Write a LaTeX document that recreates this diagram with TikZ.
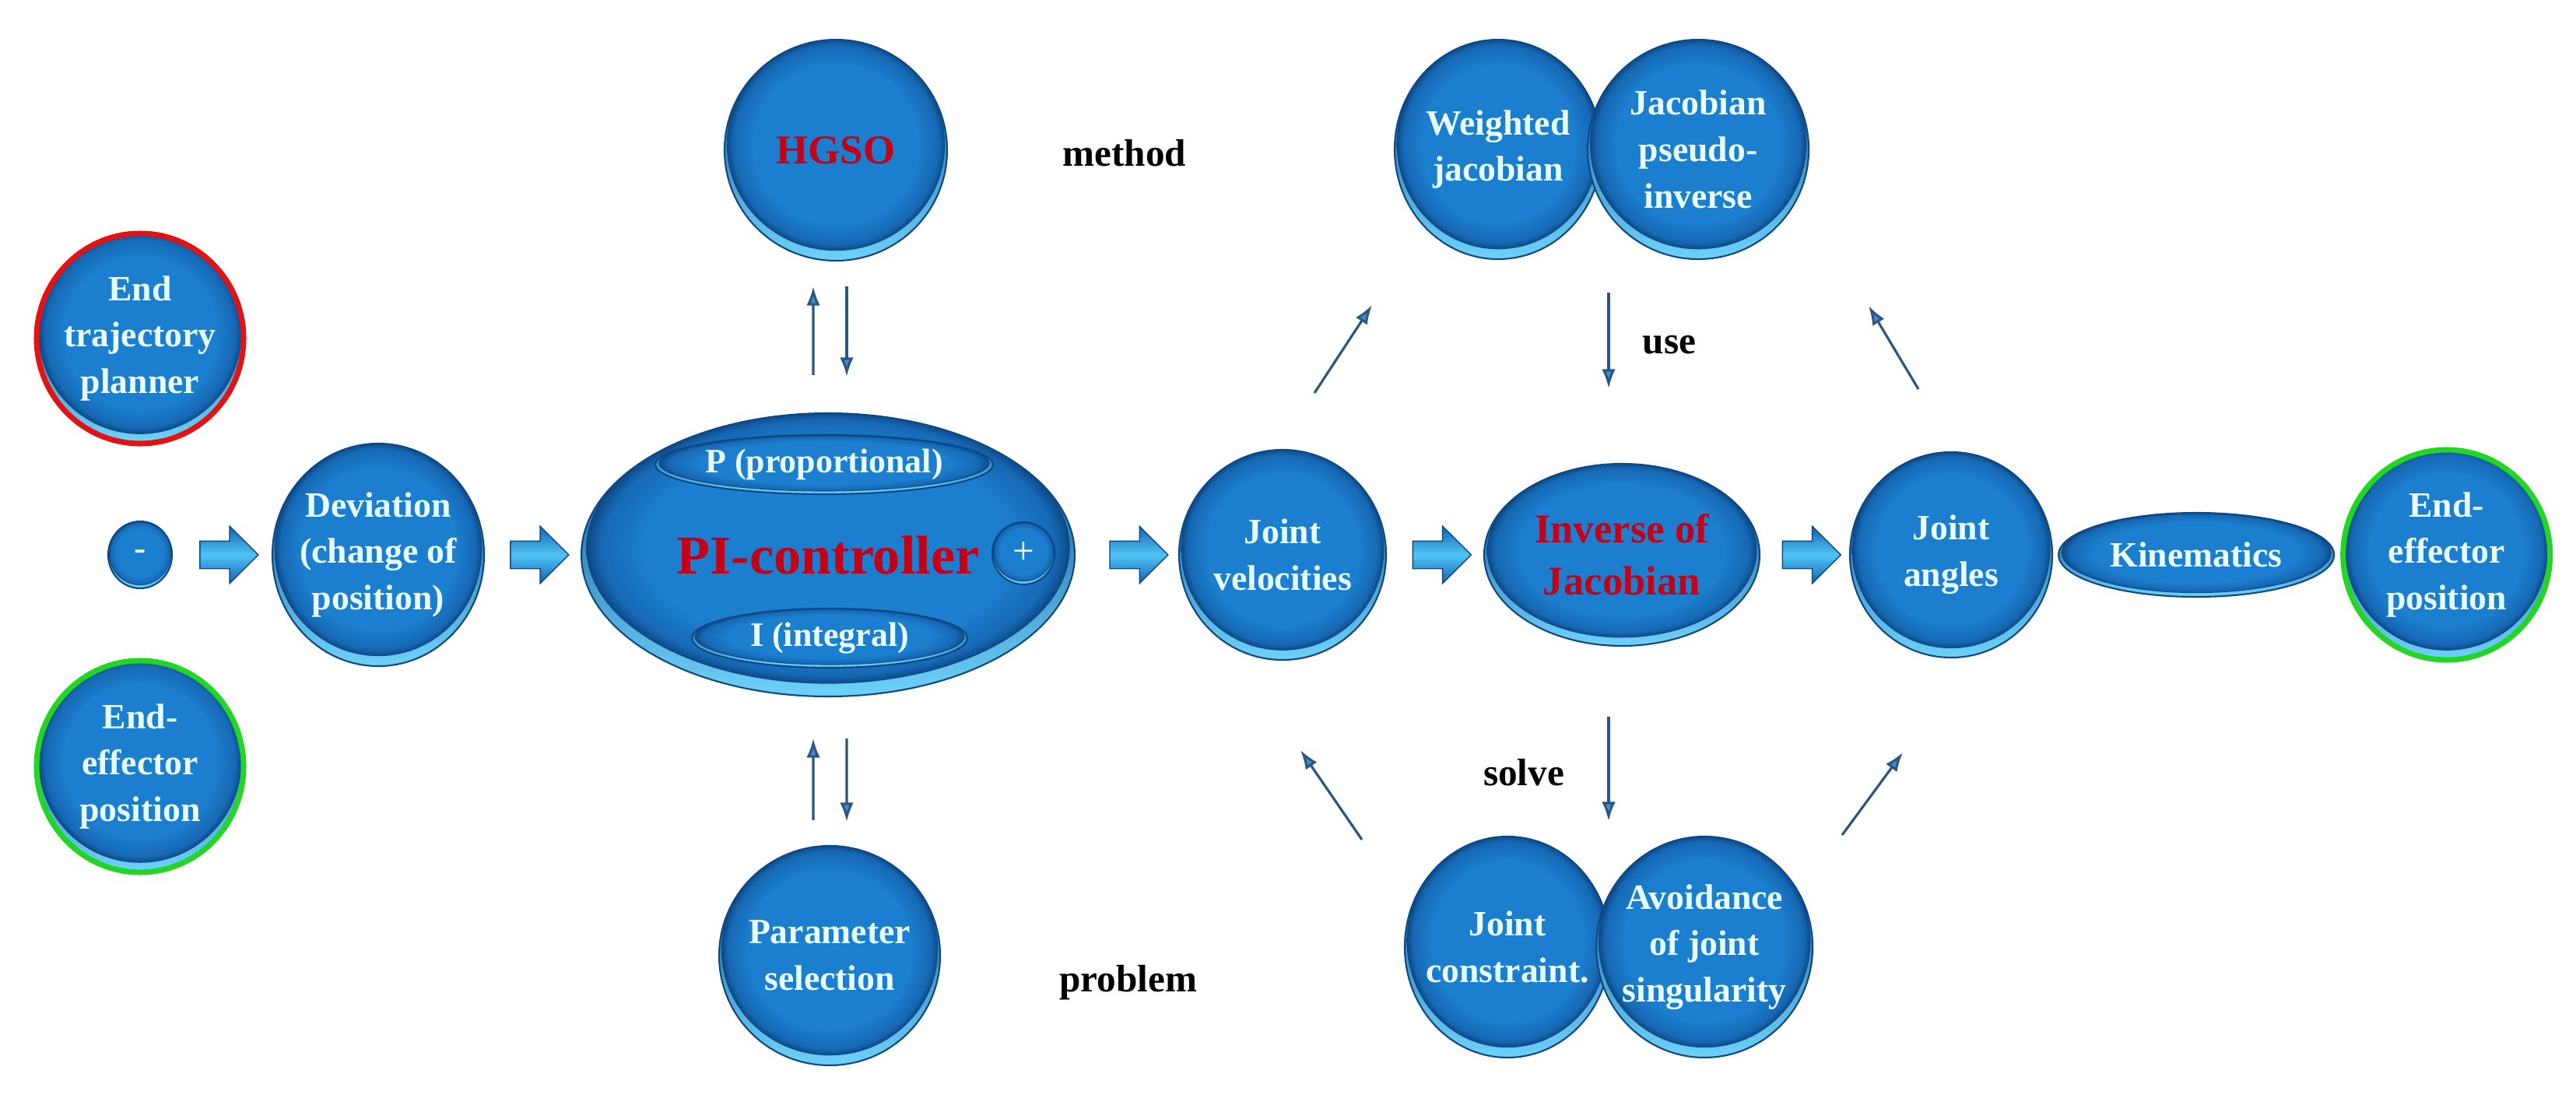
\documentclass[tikz,border=0pt]{standalone}
\usepackage{fontspec}
\setmainfont{Liberation Serif}
\usetikzlibrary{shapes,arrows.meta,positioning,calc}

\definecolor{bubblue}{RGB}{28,126,206}
\definecolor{bubmid}{RGB}{22,104,180}
\definecolor{bubdark}{RGB}{12,72,132}
\definecolor{rimcyan}{RGB}{110,210,250}
\definecolor{txtcyan}{RGB}{232,255,255}
\definecolor{txtred}{RGB}{196,0,22}
\definecolor{linkblue}{RGB}{44,86,128}
\definecolor{tipblue}{RGB}{64,144,208}
\definecolor{arrtop}{RGB}{18,100,178}
\definecolor{arrmid}{RGB}{80,196,244}
\definecolor{ringred}{RGB}{228,18,18}
\definecolor{ringgreen}{RGB}{36,214,36}

\pgfdeclareradialshading{bubbleshade}{\pgfpointorigin}{color(0bp)=(bubblue); color(19bp)=(bubblue); color(23.5bp)=(bubmid); color(25bp)=(bubdark); color(50bp)=(bubdark)}

\begin{document}
\begin{tikzpicture}[
    bubble/.style={ellipse, draw=bubdark, line width=0.6pt, inner sep=-5pt, align=center, text=txtcyan, font=\bfseries\fontsize{13}{17}\selectfont,
      path picture={
        \shade[top color=bubdark, bottom color=rimcyan] (path picture bounding box.south west) rectangle (path picture bounding box.north east);
        \shade[shading=bubbleshade] let \p1=(path picture bounding box.south west), \p2=(path picture bounding box.north east) in
          ({(\x1+\x2)/2},{(\y1+\y2)/2+0.025*(\y2-\y1)}) ellipse [x radius={0.49*(\x2-\x1)}, y radius={0.48*(\y2-\y1)}];
      }},
    flat/.style={bubble, font=\bfseries\fontsize{12.5}{15}\selectfont},
    redring/.style={draw=ringred, line width=2pt},
    greenring/.style={draw=ringgreen, line width=2pt},
    blockarrow/.style={single arrow, minimum height=0.75cm, inner xsep=0pt, inner ysep=0.17cm, single arrow head extend=0.19cm, top color=arrtop, bottom color=arrtop, middle color=arrmid, draw=bubdark, line width=0.4pt},
    link/.style={draw=linkblue, line width=0.9pt, -{Latex[length=7pt,width=5pt,fill=tipblue]}},
    lbl/.style={text=black, font=\bfseries\fontsize{14}{17}\selectfont}
]

\useasboundingbox (0,0) rectangle (33.1,14.1);

% Nodes
\node[bubble, redring, minimum width=2.66cm, minimum height=2.70cm] (planner) at (1.80,9.75) {End\\trajectory\\planner};
\node[bubble, minimum width=0.82cm, minimum height=0.86cm, inner sep=0pt] (minus) at (1.80,6.97) {-};
\node[bubble, greenring, minimum width=2.66cm, minimum height=2.72cm] (effleft) at (1.80,4.25) {End-\\effector\\position};
\node[bubble, minimum width=2.72cm, minimum height=2.86cm] (deviation) at (4.86,6.97) {Deviation\\(change of\\position)};

\node[bubble, minimum width=6.34cm, minimum height=3.64cm, text=txtred, font=\bfseries\fontsize{20}{24}\selectfont] (pi) at (10.64,6.97) {PI-controller};
\node[flat, minimum width=4.34cm, minimum height=0.76cm] (prop) at (10.59,8.13) {P (proportional)};
\node[flat, minimum width=3.54cm, minimum height=0.76cm] (integ) at (10.66,5.90) {I (integral)};
\node[bubble, minimum width=0.80cm, minimum height=0.80cm, inner sep=0pt, font=\fontsize{14}{14}\selectfont] (plus) at (13.15,6.99) {+};

\node[bubble, minimum width=2.86cm, minimum height=2.84cm, text=txtred, font=\bfseries\fontsize{15}{18}\selectfont] (hgso) at (10.74,12.17) {HGSO};
\node[bubble, minimum width=2.84cm, minimum height=2.82cm] (param) at (10.66,1.82) {Parameter\\selection};

\node[bubble, minimum width=2.66cm, minimum height=2.70cm] (jvel) at (16.48,6.97) {Joint\\velocities};
\node[bubble, minimum width=3.54cm, minimum height=2.34cm, text=txtred, font=\bfseries\fontsize{15}{19}\selectfont] (invjac) at (20.84,6.97) {Inverse of\\Jacobian};
\node[bubble, minimum width=2.60cm, minimum height=2.64cm] (jang) at (25.07,6.97) {Joint\\angles};
\node[bubble, minimum width=3.54cm, minimum height=1.08cm, right=0.06cm of jang] (kinem) {Kinematics};
\node[bubble, greenring, minimum width=2.66cm, minimum height=2.70cm, right=0.07cm of kinem] (effright) {End-\\effector\\position};

\node[bubble, minimum width=2.66cm, minimum height=2.82cm] (weighted) at (19.25,12.18) {Weighted\\jacobian};
\node[bubble, minimum width=2.84cm, minimum height=2.82cm, right=-0.2cm of weighted] (pseudo) {Jacobian\\pseudo-\\inverse};
\node[bubble, minimum width=2.64cm, minimum height=2.84cm] (jconst) at (19.37,1.93) {Joint\\constraint.};
\node[bubble, minimum width=2.78cm, minimum height=2.84cm, right=-0.2cm of jconst] (avoid) {Avoidance\\of joint\\singularity};

\node[blockarrow] (ar1) at ($(minus.east)!0.5!(deviation.west)$) {};
\node[blockarrow] (ar2) at ($(deviation.east)!0.5!(pi.west)$) {};
\node[blockarrow] (ar3) at ($(pi.east)!0.55!(jvel.west)$) {};
\node[blockarrow] (ar4) at ($(jvel.east)!0.5!(invjac.west)$) {};
\node[blockarrow] (ar5) at ($(invjac.east)!0.5!(jang.west)$) {};

\node[lbl] (method) at (14.45,12.13) {method};
\node[lbl] (problem) at (14.50,1.47) {problem};
\node[lbl] (use) at (21.45,9.67) {use};
\node[lbl] (solve) at (19.58,4.17) {solve};

% Free ends of the slanted links
\coordinate (velout) at (16.89,9.05);
\coordinate (weightin) at (17.63,10.18);
\coordinate (angout) at (24.65,9.10);
\coordinate (pseudoin) at (24.01,10.17);
\coordinate (constout) at (17.50,3.31);
\coordinate (velin) at (16.71,4.46);
\coordinate (avoidout) at (23.67,3.37);
\coordinate (angin) at (24.45,4.43);

% Lines
\draw[link] ([xshift=-0.19cm,yshift=0.48cm]pi.north) -- ([xshift=-0.29cm,yshift=-0.32cm]hgso.south);
\draw[link] ([xshift=0.14cm,yshift=-0.32cm]hgso.south) -- ([xshift=0.24cm,yshift=0.46cm]pi.north);
\draw[link] ([xshift=-0.21cm,yshift=0.32cm]param.north) -- ([xshift=-0.19cm,yshift=-0.53cm]pi.south);
\draw[link] ([xshift=0.24cm,yshift=-0.53cm]pi.south) -- ([xshift=0.22cm,yshift=0.30cm]param.north);
\draw[link] ([xshift=-0.17cm,yshift=2.19cm]invjac.north) -- ([xshift=-0.17cm,yshift=0.96cm]invjac.north);
\draw[link] ([xshift=-0.17cm,yshift=-0.90cm]invjac.south) -- ([xshift=-0.17cm,yshift=-2.24cm]invjac.south);
\draw[link] (velout) -- (weightin);
\draw[link] (angout) -- (pseudoin);
\draw[link] (constout) -- (velin);
\draw[link] (avoidout) -- (angin);

\end{tikzpicture}
\end{document}
